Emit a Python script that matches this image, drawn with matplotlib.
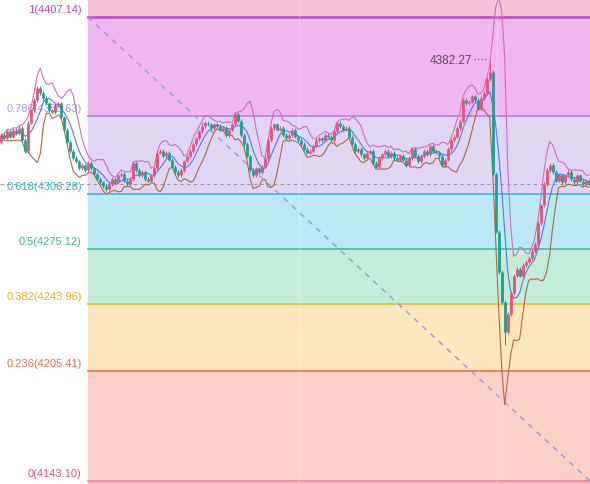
import matplotlib.pyplot as plt
import numpy as np
import pandas as pd

# closes, one candle every ~3 px (open = previous close)
closes = [4340, 4338, 4342, 4339, 4343, 4341, 4344, 4337, 4331, 4347,
          4354, 4360, 4367, 4364, 4361, 4358, 4354, 4353, 4357, 4358,
          4350, 4343, 4336, 4331, 4327, 4325, 4321, 4323, 4320, 4324,
          4321, 4318, 4315, 4313, 4311, 4309, 4312, 4315, 4313, 4317,
          4318, 4314, 4312, 4315, 4324, 4320, 4317, 4319, 4315, 4314,
          4317, 4321, 4330, 4331, 4328, 4330, 4326, 4322, 4319, 4317,
          4320, 4325, 4328, 4331, 4335, 4338, 4342, 4345, 4347, 4346,
          4344, 4346, 4345, 4343, 4344, 4340, 4343, 4346, 4352, 4348,
          4340, 4335, 4328, 4320, 4317, 4321, 4319, 4322, 4327, 4337,
          4344, 4346, 4343, 4344, 4340, 4338, 4340, 4343, 4339, 4337,
          4335, 4332, 4330, 4331, 4334, 4337, 4338, 4337, 4340, 4339,
          4337, 4342, 4347, 4345, 4343, 4344, 4339, 4335, 4331, 4332,
          4329, 4327, 4330, 4331, 4324, 4322, 4327, 4329, 4331, 4328,
          4330, 4327, 4326, 4328, 4326, 4323, 4327, 4332, 4328, 4325,
          4328, 4331, 4329, 4334, 4331, 4330, 4328, 4323, 4326, 4332,
          4337, 4339, 4344, 4348, 4360, 4358, 4359, 4362, 4360, 4355,
          4361, 4364, 4372, 4376, 4318, 4285, 4262, 4245, 4228, 4238,
          4250, 4260, 4264, 4260, 4266, 4268, 4270, 4274, 4278, 4290,
          4300, 4312, 4320, 4323, 4319, 4314, 4317, 4313, 4317, 4319,
          4315, 4313, 4317, 4314, 4312, 4314, 4312]
first_open = 4336
high_marks = {163: 4382.27}
low_marks = {168: 4220.5}

fib_ratios = [1, 0.786, 0.618, 0.5, 0.382, 0.236, 0]
fib_prices = [4407.14, 4350.63, 4306.28, 4275.12, 4243.96, 4205.41, 4143.10]
fib_lines = ['#c455c4', '#b48ad8', '#4bbcd8', '#52c0a8', '#f4b840', '#f07858', '#f08a98']
fib_text = ['#c040c8', '#a898d8', '#25b5c5', '#45b090', '#f0a820', '#ee6a48', '#e8506a']
fib_fill = ['#f6c1d9', '#efb6ef', '#e0d5f3', '#bce8f4', '#c3ecd9', '#fde5bd', '#fdd0c6']

n = len(closes)
x = np.arange(n)
opens = [first_open] + closes[:-1]

fig = plt.figure(figsize=(5.9, 4.84), dpi=100)
ax = fig.add_axes([0, 0, 1, 1])
ax.set_xlim(-0.5, n - 0.5)
ax.set_ylim(4141.39, 4416.81)
ax.axis('off')

# fib zones start at pixel 88
x0 = 28.8
x1 = n - 0.5
top = 4416.81
ax.fill_between([x0, x1], fib_prices[0], top, color=fib_fill[0], lw=0, zorder=0)
for k in range(6):
    ax.fill_between([x0, x1], fib_prices[k + 1], fib_prices[k], color=fib_fill[k + 1], lw=0, zorder=0)
for k in range(7):
    ax.plot([x0, x1], [fib_prices[k]] * 2, color=fib_lines[k], lw=1.3 if k else 2, zorder=1)
    ax.text(26.8, fib_prices[k] + 1.2, '%g(%.2f)' % (fib_ratios[k], fib_prices[k]),
            color=fib_text[k], fontsize=8, family='Liberation Sans', ha='right', va='bottom')
ax.fill_between([x0, x1], 4141.39, fib_prices[-1], color='#f8b8c0', lw=0, zorder=0)

# faint vertical grid
for gx in [99.5, 165.5]:
    ax.axvline(gx, color='white', lw=1, alpha=0.25, zorder=1)

# diagonal trend line
ax.plot([x0, x1], [fib_prices[0], fib_prices[-1]], color='#8c9ee0', lw=1, ls=(0, (4, 4)), zorder=2)

# last price line
ax.axhline(closes[-1], color='#9a9a9a', lw=0.8, ls=(0, (3, 3)), zorder=2)

# bollinger
s = pd.Series(closes, dtype=float)
mid = s.rolling(6, min_periods=1).mean()
sd = s.rolling(6, min_periods=1).std(ddof=0)
ax.plot(x, mid + 2 * sd, color='#d46bb8', lw=0.8, zorder=3)
ax.plot(x, mid, color='#5a78e0', lw=0.8, zorder=3)
ax.plot(x, mid - 2 * sd, color='#a86a45', lw=0.8, zorder=3)

# candles
for i in range(n):
    o, c = opens[i], closes[i]
    col = '#e4507c' if c >= o else '#1e9e8c'
    hi = high_marks.get(i, max(o, c) + 1)
    lo = low_marks.get(i, min(o, c) - 1)
    ax.vlines(i, lo, hi, color=col, lw=0.7, zorder=4)
    b0, b1 = min(o, c), max(o, c)
    if b1 - b0 < 0.8:
        b1 = b0 + 0.8
    ax.vlines(i, b0, b1, color=col, lw=2, zorder=4)

# high label
ax.text(157.3, 4382.27, '4382.27', color='#555555', fontsize=8.5,
        family='Liberation Sans', ha='right', va='center')
ax.plot([157.8, 162.3], [4383.5, 4383.5], color='#777777', lw=1, ls=(0, (1, 1.5)), zorder=5)

plt.savefig('out.png', dpi=100)
